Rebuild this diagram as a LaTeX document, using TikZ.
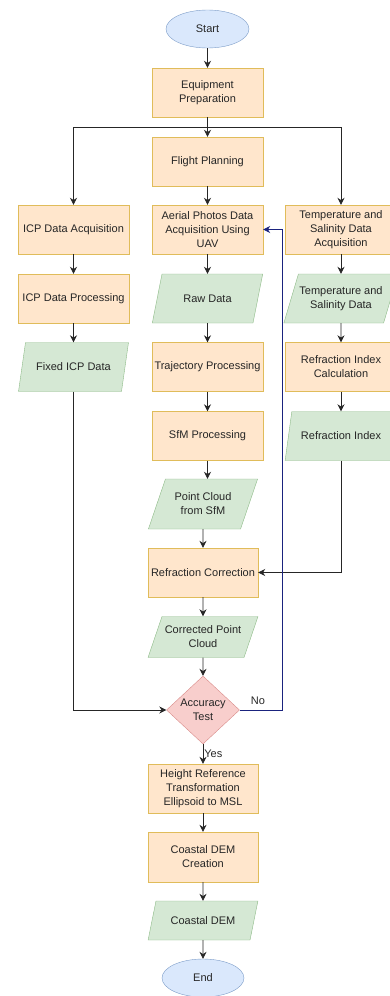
\documentclass[tikz,border=0pt]{standalone}
\usepackage{fontspec}
\setmainfont{Liberation Sans}
\usepackage{tikz}
\usetikzlibrary{shapes.geometric,arrows.meta}
\definecolor{procfill}{HTML}{FFE6CC}
\definecolor{procline}{HTML}{E0BC5A}
\definecolor{datafill}{HTML}{D5E8D4}
\definecolor{dataline}{HTML}{8DBA87}
\definecolor{termfill}{HTML}{DAE8FC}
\definecolor{termline}{HTML}{7C9CC8}
\definecolor{testfill}{HTML}{F8CECC}
\definecolor{testline}{HTML}{D88A88}
\definecolor{loopblue}{HTML}{1A237E}
\tikzset{>={Stealth[length=7pt,width=7pt]}}
\tikzset{
  every node/.style={font=\fontsize{11}{14}\selectfont, text=black!85, align=center},
  process/.style={draw=procline, fill=procfill, rectangle,
    minimum width=111pt, minimum height=49pt, inner sep=1pt},
  iodata/.style={draw=dataline, fill=datafill, trapezium,
    trapezium left angle=61, trapezium right angle=119, trapezium stretches=true,
    minimum width=111pt, minimum height=49pt, inner sep=1pt},
  terminal/.style={draw=termline, fill=termfill, ellipse,
    minimum width=83pt, minimum height=38pt, inner sep=0pt},
  decision/.style={draw=testline, fill=testfill, diamond, aspect=1.07,
    minimum width=73pt, minimum height=68pt, inner sep=0pt},
  flow/.style={->, draw=black!85, line width=0.8pt}
}

\begin{document}
\begin{tikzpicture}[x=1pt,y=-1pt]
    \useasboundingbox (0,0) rectangle (390,996);
    % top
    \node[terminal] (start) at (207.5,29) {Start};
    \node[process] (equip) at (207.5,92.5) {Equipment\\Preparation};
    \node[process] (flight) at (207.5,161.5) {Flight Planning};
    \coordinate (split) at (207.5,127);
    % left column
    \node[process] (icpacq) at (73.5,229.5) {ICP Data Acquisition};
    \node[process] (icpproc) at (73.5,298.5) {ICP Data Processing};
    \node[iodata] (fixedicp) at (73.5,367) {Fixed ICP Data};
    % middle column
    \node[process] (aerial) at (207.5,229.5) {Aerial Photos Data\\Acquisition Using\\UAV};
    \node[iodata] (raw) at (207.5,298.5) {Raw Data};
    \node[process] (traj) at (207.5,367) {Trajectory Processing};
    \node[process] (sfm) at (207.5,436) {SfM Processing};
    \node[iodata, minimum width=110pt, minimum height=50pt] (pcsfm) at (203,504) {Point Cloud\\from SfM};
    \node[process, minimum width=110pt] (refcorr) at (203,572.5) {Refraction Correction};
    \node[iodata, minimum width=110pt, minimum height=41pt] (corrpc) at (203,637) {Corrected Point\\Cloud};
    \node[decision] (acc) at (203,710) {Accuracy\\Test};
    \node[process, minimum width=110pt] (height) at (203,788.5) {Height Reference\\Transformation\\Ellipsoid to MSL};
    \node[process, minimum width=110pt, minimum height=50pt] (demcreate) at (203,857) {Coastal DEM\\Creation};
    \node[iodata, minimum width=110pt, minimum height=39pt] (dem) at (203,920.5) {Coastal DEM};
    \node[terminal, minimum width=82pt] (end) at (203,978) {End};
    % right column
    \node[process, minimum width=112pt] (tempacq) at (341,229.5) {Temperature and\\Salinity Data\\Acquisition};
    \node[iodata, minimum width=112pt] (tempdata) at (341,298.5) {Temperature and\\Salinity Data};
    \node[process, minimum width=112pt] (refcalc) at (341,367) {Refraction Index\\Calculation};
    \node[iodata, minimum width=112pt] (refidx) at (341,436) {Refraction Index};
    \coordinate (loop) at (282,229.5);

    \draw[flow] (start) -- (equip);
    \draw[flow] (equip) -- (flight);
    \draw[flow] (split) -| (icpacq);
    \draw[flow] (split) -| (tempacq);
    \draw[flow] (flight) -- (aerial);
    \draw[flow] (icpacq) -- (icpproc);
    \draw[flow] (icpproc) -- (fixedicp);
    \draw[flow] (fixedicp.south) |- (acc.west);
    \draw[flow] (aerial) -- (raw);
    \draw[flow] (raw) -- (traj);
    \draw[flow] (traj) -- (sfm);
    \draw[flow] (sfm.south) -- (sfm.south |- pcsfm.north);
    \draw[flow] (pcsfm.south) -- (refcorr.north);
    \draw[flow] (refcorr) -- (corrpc);
    \draw[flow] (corrpc) -- (acc);
    \draw[flow] (tempacq) -- (tempdata);
    \draw[flow] (tempdata) -- (refcalc);
    \draw[flow] (refcalc) -- (refidx);
    \draw[flow] (refidx.south) |- (refcorr.east);
    \draw[flow, draw=loopblue] (acc.east) -| (loop) -- (aerial.east);
    \node[anchor=south, inner sep=2pt] (no) at (258,707) {No};
    \draw[flow] (acc.south) -- node[anchor=west, inner sep=1pt] (yes) {Yes} (height.north);
    \draw[flow] (height) -- (demcreate);
    \draw[flow] (demcreate) -- (dem);
    \draw[flow] (dem) -- (end);
\end{tikzpicture}
\end{document}
